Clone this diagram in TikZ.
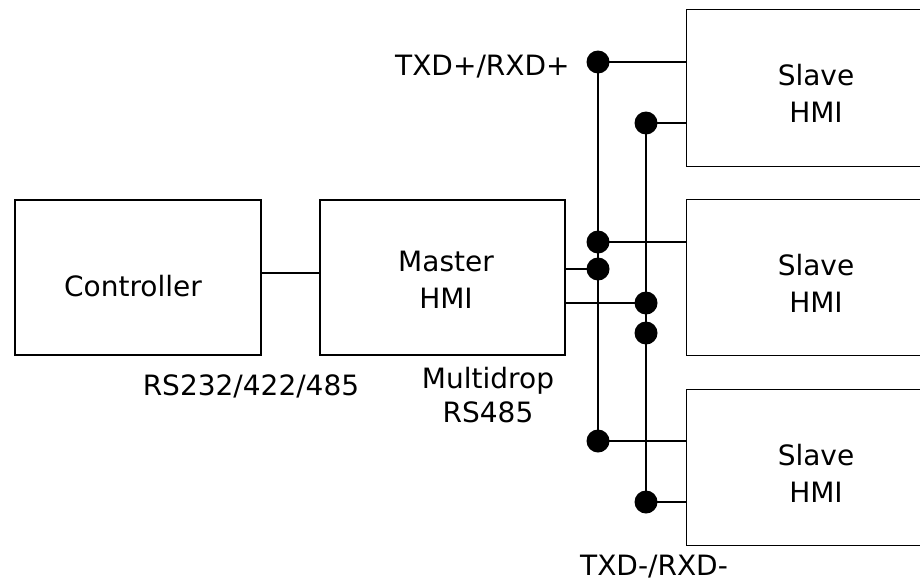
\documentclass[tikz,border=0pt]{standalone}
\usepackage{fontspec}
\setmainfont{DejaVu Sans}
\begin{document}
\begin{tikzpicture}[x=1pt,y=-1pt,
  box/.style={draw=black,line width=1.2pt,rectangle,inner sep=0pt},
  slavebox/.style={draw=none,rectangle,inner sep=0pt,
    minimum width=258pt,minimum height=156pt},
  txt/.style={inner sep=0pt,align=center,font=\fontsize{28}{37}\selectfont},
  lbl/.style={inner sep=0pt,font=\fontsize{28}{34}\selectfont},
  dot/.style={circle,fill=black,draw=none,minimum size=23pt,inner sep=0pt},
  wire/.style={line width=1.2pt}]
\useasboundingbox (0,0) rectangle (920,581);
% boxes
\node[box,minimum width=246pt,minimum height=155pt] (ctrl) at (138,277.5) {};
\node[box,minimum width=245pt,minimum height=155pt] (master) at (442.5,277.5) {};
\node[slavebox] (s1) at (816,88) {};
\node[slavebox] (s2) at (816,277.5) {};
\node[slavebox] (s3) at (816,467.5) {};
\foreach \s in {s1,s2,s3}{
  \draw[wire] (\s.north west -| 920,0) -- (\s.north west) -- (\s.south west) -- (\s.south west -| 920,0);
}
% box texts
\node[txt,anchor=base] (ctrlT) at (133,296) {Controller};
\node[txt,anchor=base] (masterT) at (446,308) {Master\\HMI};
\node[txt,anchor=base] (s1T) at (816,122) {Slave\\HMI};
\node[txt,anchor=base] (s2T) at (816,312) {Slave\\HMI};
\node[txt,anchor=base] (s3T) at (816,502) {Slave\\HMI};
% dots
\node[dot] (dA1) at (598,62) {};
\node[dot] (dB1) at (646,123) {};
\node[dot] (dA2) at (598,242) {};
\node[dot] (dA3) at (598,269) {};
\node[dot] (dB2) at (646,303) {};
\node[dot] (dB3) at (646,333) {};
\node[dot] (dA4) at (598,441) {};
\node[dot] (dB4) at (646,502) {};
% buses
\draw[wire] (dA1.center) -- (dA4.center);
\draw[wire] (dB1.center) -- (dB4.center);
% connections
\draw[wire] (ctrl.east |- 0,273) -- (master.west |- 0,273);
\draw[wire] (dA1.center) -- (dA1 -| s1.west);
\draw[wire] (dB1.center) -- (dB1 -| s1.west);
\draw[wire] (dA2.center) -- (dA2 -| s2.west);
\draw[wire] (master.east |- dA3) -- (dA3.center);
\draw[wire] (master.east |- dB2) -- (dB2.center);
\draw[wire] (dA4.center) -- (dA4 -| s3.west);
\draw[wire] (dB4.center) -- (dB4 -| s3.west);
% labels
\node[lbl,anchor=base west] (ltp) at (395,75) {TXD+/RXD+};
\node[lbl,anchor=base] (lrs) at (251,395) {RS232/422/485};
\node[lbl,anchor=base,align=center] (lmd) at (488,422) {Multidrop\\RS485};
\node[lbl,anchor=base west] (ltm) at (580,575) {TXD-/RXD-};
\end{tikzpicture}
\end{document}
